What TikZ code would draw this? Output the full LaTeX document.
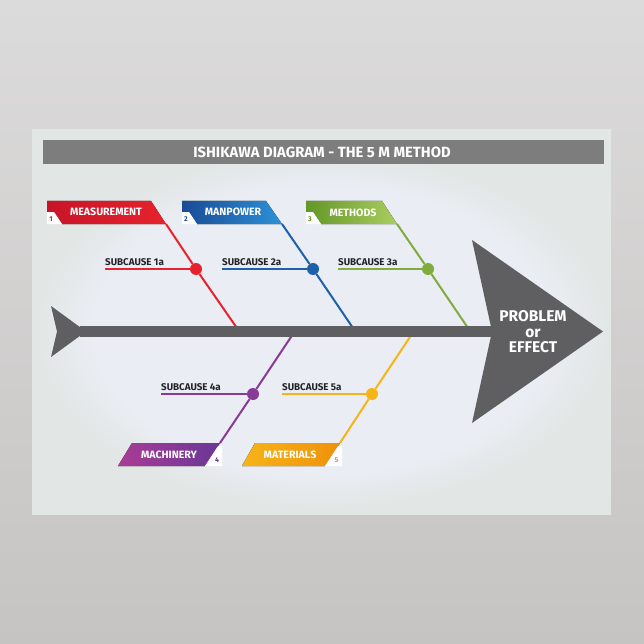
\documentclass[tikz,border=0pt]{standalone}
\usepackage{fontspec}
\setmainfont{Fira Sans}
\usepackage{color}
\usetikzlibrary{positioning,fadings}

\definecolor{walltop}{RGB}{220,219,219}
\definecolor{wallbot}{RGB}{198,196,195}
\definecolor{poster}{RGB}{226,230,228}
\definecolor{posterin}{RGB}{234,237,243}
\definecolor{titlegray}{RGB}{125,125,125}
\definecolor{spine}{RGB}{95,95,97}
\definecolor{subdark}{RGB}{35,35,40}
\definecolor{redA}{RGB}{200,20,40}
\definecolor{redB}{RGB}{230,35,45}
\definecolor{blueA}{RGB}{25,75,150}
\definecolor{blueB}{RGB}{45,145,215}
\definecolor{greenA}{RGB}{100,150,40}
\definecolor{greenB}{RGB}{170,205,95}
\definecolor{purpA}{RGB}{170,60,150}
\definecolor{purpB}{RGB}{105,55,150}
\definecolor{orgA}{RGB}{246,180,25}
\definecolor{orgB}{RGB}{240,145,10}

\tikzset{
  bonetext/.style={text=white,font=\bfseries\fontsize{10.6}{11}\selectfont},
  subtext/.style={text=subdark,anchor=base west,inner sep=0pt,font=\bfseries\fontsize{9.8}{10}\selectfont},
  numtext/.style={font=\bfseries\fontsize{7}{7}\selectfont},
  knot/.style={circle,inner sep=0pt,minimum size=12pt},
  bone/.style={line width=2pt}
}

\begin{document}
\begin{tikzpicture}[x=1pt,y=-1pt]
  \useasboundingbox (0,0) rectangle (644,644);
  \fill[top color=walltop,bottom color=wallbot] (0,0) rectangle (644,644);
  \fill[poster] (32,129) rectangle (611,515);
  \fill[posterin,path fading=circle with fuzzy edge 20 percent] (322,330) ellipse (290 and 180);

  \fill[titlegray] (43,140) rectangle (604,164);
  \node[text=white,font=\bfseries\fontsize{14.8}{15}\selectfont] (title) at (322,152) {ISHIKAWA DIAGRAM - THE 5 M METHOD};

  % top bones
  \fill[left color=redA,right color=redB] (47,201) -- (151,201) -- (166,224) -- (62,224) -- (54,212) -- (47,212) -- cycle;
  \fill[white] (47,212) -- (54,212) -- (62,224) -- (47,224) -- cycle;
  \node[numtext,text=redA] (n1) at (51,219) {1};
  \node[bonetext] (m1) at (106,212) {MEASUREMENT};
  \coordinate (b1) at (166,224);
  \coordinate (s1) at (239,331);
  \node[knot,fill=redB] (c1) at (196,269) {};
  \draw[bone,redB] (b1) -- (c1) -- (s1);
  \node[subtext] (t1) at (105,265) {SUBCAUSE 1a};
  \draw[bone,redB] (t1.west |- c1) -- (c1);

  \fill[left color=blueA,right color=blueB] (182,201) -- (266,201) -- (282,224) -- (197,224) -- (189,212) -- (182,212) -- cycle;
  \fill[white] (182,212) -- (189,212) -- (197,224) -- (182,224) -- cycle;
  \node[numtext,text=blueA] (n2) at (186,219) {2};
  \node[bonetext] (m2) at (233,212) {MANPOWER};
  \coordinate (b2) at (282,224);
  \coordinate (s2) at (355,331);
  \node[knot,fill=blueA!70!blueB] (c2) at (313,269) {};
  \draw[bone,blueA!70!blueB] (b2) -- (c2) -- (s2);
  \node[subtext] (t2) at (222,265) {SUBCAUSE 2a};
  \draw[bone,blueA!70!blueB] (t2.west |- c2) -- (c2);

  \fill[left color=greenA,right color=greenB] (306,201) -- (382,201) -- (397,224) -- (321,224) -- (313,212) -- (306,212) -- cycle;
  \fill[white] (306,212) -- (313,212) -- (321,224) -- (306,224) -- cycle;
  \node[numtext,text=greenA] (n3) at (310,219) {3};
  \node[bonetext] (m3) at (353,213) {METHODS};
  \coordinate (b3) at (397,224);
  \coordinate (s3) at (470,331);
  \node[knot,fill=greenA!60!greenB] (c3) at (428,269) {};
  \draw[bone,greenA!60!greenB] (b3) -- (c3) -- (s3);
  \node[subtext] (t3) at (338,265) {SUBCAUSE 3a};
  \draw[bone,greenA!60!greenB] (t3.west |- c3) -- (c3);

  % bottom bones
  \fill[left color=purpA,right color=purpB] (132,443) -- (220,443) -- (205,466) -- (118,466) -- cycle;
  \fill[white] (218,446) -- (222,446) -- (222,466) -- (205,466) -- cycle;
  \node[numtext,text=purpB] (n4) at (217,460) {4};
  \node[bonetext] (m4) at (169,455) {MACHINERY};
  \coordinate (b4) at (220,443);
  \coordinate (s4) at (295,331);
  \node[knot,fill=purpA!50!purpB] (c4) at (253,394) {};
  \draw[bone,purpA!50!purpB] (b4) -- (c4) -- (s4);
  \node[subtext] (t4) at (161,390) {SUBCAUSE 4a};
  \draw[bone,purpA!50!purpB] (t4.west |- c4) -- (c4);

  \fill[left color=orgA,right color=orgB] (255,443) -- (340,443) -- (325,466) -- (242,466) -- cycle;
  \fill[white] (338,446) -- (342,446) -- (342,466) -- (325,466) -- cycle;
  \node[numtext,text=orgB] (n5) at (336.5,460) {5};
  \node[bonetext] (m5) at (290,455) {MATERIALS};
  \coordinate (b5) at (340,443);
  \coordinate (s5) at (414,331);
  \node[knot,fill=orgA] (c5) at (372,394) {};
  \draw[bone,orgA] (b5) -- (c5) -- (s5);
  \node[subtext] (t5) at (282,390) {SUBCAUSE 5a};
  \draw[bone,orgA] (t5.west |- c5) -- (c5);

  % spine
  \fill[spine] (80,326) rectangle (495,337);
  \fill[spine] (51,306) -- (86,331.5) -- (51,357) -- (57,331.5) -- cycle;
  \fill[spine] (472,240) -- (603,331.5) -- (472,423) -- (492,331.5) -- cycle;
  \node[text=white,align=center,font=\bfseries\fontsize{15.5}{15.5}\selectfont] (effect) at (533,332) {PROBLEM\\or\\EFFECT};
\end{tikzpicture}
\end{document}
